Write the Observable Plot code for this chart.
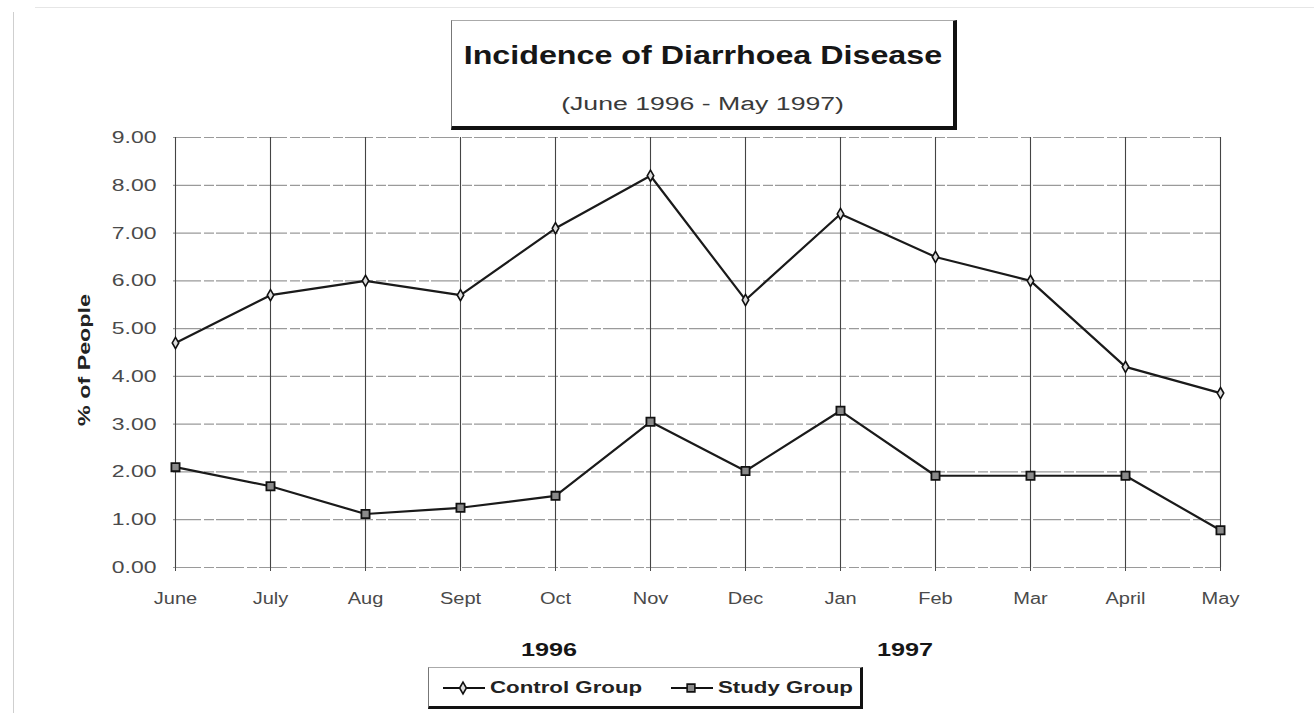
<!DOCTYPE html>
<html><head><meta charset="utf-8">
<script src="https://cdn.jsdelivr.net/npm/d3@7"></script>
<script src="https://cdn.jsdelivr.net/npm/@observablehq/plot@0.6"></script>
<style>
body{margin:0;background:#fff;font-family:"Liberation Sans",Arial,sans-serif;}
#wrap{position:relative;width:1314px;height:713px;overflow:hidden;background:#fff;}
#chart{position:absolute;left:0;top:0;}
.abs{position:absolute;}
.box{position:absolute;background:#fff;box-sizing:border-box;border-left:1px solid #777;border-top:1px solid #aaa;}
.st{display:inline-block;white-space:nowrap;}
</style></head><body>
<div id="wrap">
  <div id="chart"></div>
  <div class="abs" style="left:13px;top:12px;width:1px;height:701px;background:#cfcfcf"></div>
  <div class="abs" style="left:35px;top:7px;width:1279px;height:1px;background:#e6e6e6"></div>

  <div class="box" id="titlebox" style="left:451px;top:20px;width:506px;height:110px;border-right:4px solid #111;border-bottom:4px solid #111;">
    <div class="abs" style="left:0;right:0;top:19px;text-align:center;line-height:30px;">
      <span class="st" id="title" style="font-size:26px;font-weight:bold;color:#161616;transform:scaleX(1.24)"></span>
    </div>
    <div class="abs" style="left:0;right:0;top:72px;text-align:center;line-height:22px;">
      <span class="st" id="subtitle" style="font-size:18px;color:#3a3a3a;transform:scaleX(1.48)"></span>
    </div>
  </div>

  <div class="abs" id="ylabel" style="left:85px;top:360px;font-size:17px;font-weight:bold;color:#222;white-space:nowrap;line-height:18px;transform:translate(-50%,-50%) rotate(-90deg) scaleX(1.37)"></div>

  <div class="abs" style="left:509px;width:80px;top:639px;text-align:center;line-height:22px;">
    <span class="st year" style="font-size:18px;font-weight:bold;color:#161616;transform:scaleX(1.4)"></span>
  </div>
  <div class="abs" style="left:865px;width:80px;top:639px;text-align:center;line-height:22px;">
    <span class="st year" style="font-size:18px;font-weight:bold;color:#161616;transform:scaleX(1.4)"></span>
  </div>

  <div class="box" id="legend" style="left:428px;top:667px;width:435px;height:42px;border-right:3px solid #111;border-bottom:3px solid #111;"></div>
</div>
<script>
// ---- data ----
const months = ["June","July","Aug","Sept","Oct","Nov","Dec","Jan","Feb","Mar","April","May"];
const groups = ["Control Group","Study Group"];
const control = [4.7,5.7,6.0,5.7,7.1,8.2,5.6,7.4,6.5,6.0,4.2,3.65];
const study   = [2.1,1.7,1.12,1.25,1.5,3.05,2.02,3.28,1.92,1.92,1.92,0.78];
const yTicks = [0,1,2,3,4,5,6,7,8,9];
const years = ["1996","1997"];
const titleText = "Incidence of Diarrhoea Disease";
const subtitleText = "(June 1996 - May 1997)";
const yLabelText = "% of People";

document.getElementById("title").textContent = titleText;
document.getElementById("subtitle").textContent = subtitleText;
document.getElementById("ylabel").textContent = yLabelText;
document.querySelectorAll(".year").forEach((e,i)=>e.textContent = years[i]);

const ctrl = months.map((m,i)=>({month:m, group:groups[0], value:control[i]}));
const stud = months.map((m,i)=>({month:m, group:groups[1], value:study[i]}));

const chart = Plot.plot({
  width:1314, height:713,
  marginLeft:173, marginRight:93, marginTop:137, marginBottom:146,
  style:{fontFamily:"'Liberation Sans', Arial, sans-serif", fontSize:"17px", color:"#4a4a4a", background:"transparent"},
  x:{type:"point", domain:months, padding:0},
  y:{domain:[0,9]},
  marks:[
    Plot.gridY({ticks:yTicks, stroke:"#9a9a9a", strokeOpacity:1, strokeWidth:1.2, strokeDasharray:"28,3,10,2"}),
    Plot.gridX({stroke:"#444", strokeOpacity:1, strokeWidth:1.1}),
    Plot.axisY({ticks:yTicks, tickFormat:d=>d.toFixed(2), tickSize:0, tickPadding:17, label:null, fontSize:17, color:"#4a4a4a"}),
    Plot.axisX({tickSize:4, tickPadding:21, label:null, fontSize:16, color:"#4a4a4a"}),
    Plot.line(ctrl, {x:"month", y:"value", stroke:"#1a1a1a", strokeWidth:2.2}),
    Plot.line(stud, {x:"month", y:"value", stroke:"#1a1a1a", strokeWidth:2.2}),
    Plot.dot(ctrl, {x:"month", y:"value", symbol:"diamond", r:3.4, stroke:"#111", fill:"#ddd", strokeWidth:1.6}),
    Plot.dot(stud, {x:"month", y:"value", symbol:"square", r:4.6, stroke:"#111", fill:"#8a8a8a", strokeWidth:1.8})
  ]
});
document.getElementById("chart").appendChild(chart);

// stretch axis text horizontally to match the wide lettering of the original
function stretch(sel, s){
  chart.querySelectorAll(sel).forEach(t=>{
    const ax = +(t.getAttribute("x")||0);
    const tr = t.getAttribute("transform")||"";
    t.setAttribute("transform", `${tr} translate(${ax},0) scale(${s},1) translate(${-ax},0)`);
  });
}
stretch('g[aria-label="y-axis tick label"] text', 1.35);
stretch('g[aria-label="x-axis tick label"] text', 1.25);

// legend
const legend = d3.select("#legend");
const items = [
  {label:groups[0], symbol:d3.symbolDiamond, size:40, fill:"#ddd", lineX:13, textX:61},
  {label:groups[1], symbol:d3.symbolSquare, size:60, fill:"#8a8a8a", lineX:241, textX:289}
];
items.forEach(it=>{
  const svg = legend.append("svg").attr("class","abs").style("left", it.lineX+"px").style("top","10px")
    .attr("width",44).attr("height",20);
  svg.append("line").attr("x1",1).attr("x2",43).attr("y1",10).attr("y2",10).attr("stroke","#111").attr("stroke-width",2.2);
  svg.append("path").attr("d", d3.symbol(it.symbol, it.size)()).attr("transform","translate(21,10)")
    .attr("fill", it.fill).attr("stroke","#111").attr("stroke-width",1.6);
  legend.append("div").attr("class","abs").style("left", it.textX+"px").style("top","9px").style("line-height","22px")
    .append("span").attr("class","st").style("font-size","17px").style("font-weight","bold").style("color","#222")
    .style("transform-origin","left center").style("transform","scaleX(1.31)").text(it.label);
});
</script>
</body></html>
